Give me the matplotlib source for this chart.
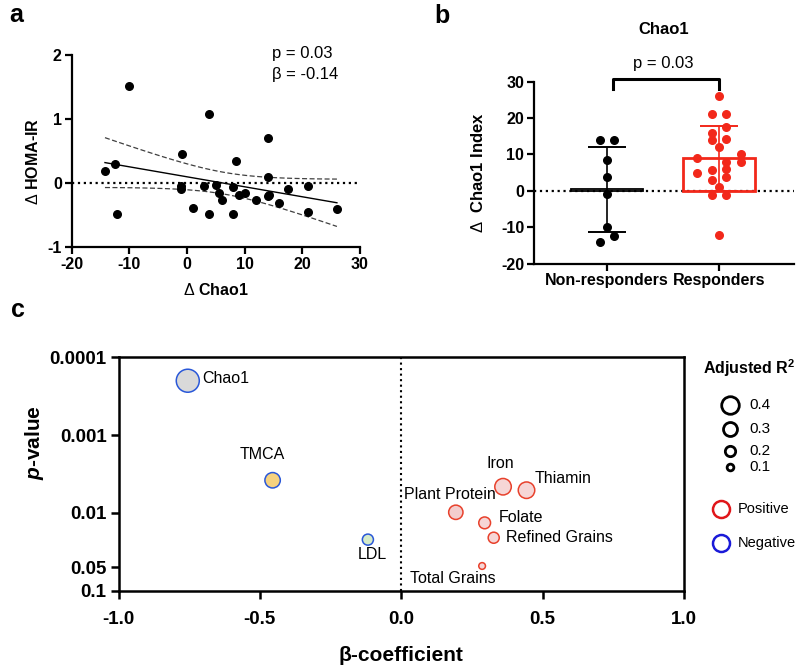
import numpy as np
import matplotlib
matplotlib.use("Agg")
import matplotlib.pyplot as plt
from matplotlib.ticker import NullLocator

plt.rcParams['font.family'] = ['Liberation Sans', 'DejaVu Sans']
plt.rcParams['axes.unicode_minus'] = False
plt.rcParams['mathtext.fontset'] = 'custom'
plt.rcParams['mathtext.rm'] = 'Liberation Sans'
plt.rcParams['mathtext.it'] = 'Liberation Sans:italic'
plt.rcParams['mathtext.bf'] = 'Liberation Sans:bold'
plt.rcParams['mathtext.bfit'] = 'Liberation Sans:bold:italic'

# ---- panel a : change in Chao1 vs change in HOMA-IR
chao_delta = [-14.2, -12.5, -12.1, -10.0, -0.8, -1.1, -1.1, 1.0, 3.0, 3.9, 3.9,
              5.0, 5.6, 6.0, 8.0, 8.0, 8.5, 9.0, 10.1, 12.0, 14.0, 14.0, 14.0,
              14.3, 16.0, 17.5, 21.0, 21.0, 26.0]
homa_delta = [0.19, 0.30, -0.48, 1.52, 0.46, -0.05, -0.10, -0.39, -0.04, 1.08, -0.48,
              -0.03, -0.16, -0.26, -0.06, -0.48, 0.34, -0.18, -0.16, -0.26, 0.71, 0.09, -0.20,
              -0.18, -0.32, -0.10, -0.04, -0.46, -0.41]
T_CRIT = 2.052  # t(0.975, df=27)

# ---- panel b : Chao1 change by group
groups = ["Non-responders", "Responders"]
nonresp = [14.0, 14.0, 8.5, 3.9, -0.8, -10.0, -12.5, -14.2]
resp = [26.0, 21.0, 21.0, 17.5, 16.0, 14.0, 14.3, 12.0, 9.0, 10.1, 8.0,
        8.0, 5.0, 5.6, 6.0, 3.0, 3.9, 1.0, -1.1, -1.1, -12.1]
# swarm slots (in dot widths) so the dots do not overlap
nonresp_slot = [-1, 1, 0, 0, 0, 0, 1, -1]
resp_slot = [0, -1, 1, 1, -1, -1, 1, 0, -3, 3, 3, 1, -3, -1, 1, -1, 1, 0, -1, 1, 0]

# ---- panel c : regression summary
variables = ["Chao1", "TMCA", "LDL", "Plant Protein", "Iron", "Thiamin",
             "Folate", "Refined Grains", "Total Grains"]
beta = [-0.755, -0.455, -0.118, 0.193, 0.36, 0.443, 0.295, 0.327, 0.286]
pvals = [0.0002, 0.0038, 0.022, 0.0098, 0.0046, 0.0051, 0.0134, 0.0208, 0.048]
adj_r2 = [0.55, 0.34, 0.22, 0.31, 0.37, 0.37, 0.24, 0.22, 0.10]
r2_legend = [0.4, 0.3, 0.2, 0.1]

fills = ['#d9d9d9', '#f6d27f', '#d6ebc9', '#f3cdcd', '#f6d6d6', '#f6d6d6',
         '#f6d6d6', '#f6d6d6', '#f6d6d6']
label_off = {  # offset in px, alignment
    "Chao1": (14, 2, 'left'), "TMCA": (-10, 26, 'center'), "LDL": (4, -15, 'center'),
    "Plant Protein": (-6, 18, 'center'), "Iron": (-3, 23, 'center'),
    "Thiamin": (8, 12, 'left'), "Folate": (14, 5, 'left'),
    "Refined Grains": (12, 0, 'left'), "Total Grains": (-29, -13, 'center'),
}
RED = '#f2281a'
POS = '#e8412c'
NEG = '#2a58d8'


def r2_to_px(r2):
    return 3.1 + 36.2 * r2


fig = plt.figure(figsize=(8, 6.71), dpi=100)
W, H = 800, 671


def px_axes(l, r, t, b):
    return fig.add_axes([l / W, 1 - b / H, (r - l) / W, (b - t) / H])


# ================= a
axa = px_axes(71.5, 360, 55, 247)
x = np.array(chao_delta)
y = np.array(homa_delta)
slope, icpt = np.polyfit(x, y, 1)
xs = np.linspace(x.min(), x.max(), 100)
n = len(x)
s = np.sqrt(np.sum((y - (slope * x + icpt)) ** 2) / (n - 2))
se = s * np.sqrt(1 / n + (xs - x.mean()) ** 2 / np.sum((x - x.mean()) ** 2))
fit = slope * xs + icpt
axa.axhline(0, color='k', ls=':', lw=1.6, zorder=1)
axa.plot(xs, fit, color='k', lw=1.0)
axa.plot(xs, fit + T_CRIT * se, color='0.25', lw=0.9, ls=(0, (4, 2)))
axa.plot(xs, fit - T_CRIT * se, color='0.25', lw=0.9, ls=(0, (4, 2)))
axa.scatter(x, y, s=30, color='k', zorder=3)
axa.set_xlim(-20, 30)
axa.set_ylim(-1, 2)
axa.set_xticks([-20, -10, 0, 10, 20, 30])
axa.set_yticks([-1, 0, 1, 2])
axa.text(0.695, 1.01, "p = 0.03", transform=axa.transAxes, ha='left', va='center', fontsize=12)
axa.text(0.695, 0.896, "β = -0.14", transform=axa.transAxes, ha='left', va='center', fontsize=12)
axa.set_xlabel(r"$\mathrm{\Delta}$ Chao1", fontsize=11.5, fontweight='bold', va='center')
axa.xaxis.set_label_coords(0.5, -0.224)
axa.set_ylabel(r"$\mathrm{\Delta}$ HOMA-IR", fontsize=11.5, fontweight='bold', va='center')
axa.yaxis.set_label_coords(-0.133, 0.448)

# ================= b
axb = px_axes(534, 794, 81.7, 263.5)
data_b = [np.array(nonresp), np.array(resp)]
slots = [nonresp_slot, resp_slot]
cols = ['k', RED]
bar_lw = [1.3, 2.0]
step = 0.0655
axb.axhline(0, color='k', ls=':', lw=1.6, zorder=1)
for i, (vals, sl, c) in enumerate(zip(data_b, slots, cols)):
    m = vals.mean()
    sd = vals.std(ddof=1)
    axb.bar(i, m, width=0.65, fill=False, edgecolor=c, lw=bar_lw[i], zorder=2)
    axb.errorbar(i, m, yerr=sd, color=c, lw=1.2, capsize=13.5, capthick=1.4, zorder=2)
    axb.scatter(i + np.array(sl) * step, vals, s=30, color=c, zorder=3)
axb.plot([0.056, 0.056, 1, 1], [28, 30.7, 30.7, 28], color='k', lw=2.2, clip_on=False)
axb.text(0.5, 35.0, "p = 0.03", ha='center', va='center', fontsize=12)
axb.set_xlim(-0.652, 1.67)
axb.set_ylim(-20, 30)
axb.set_yticks([-20, -10, 0, 10, 20, 30])
axb.set_xticks([0, 1])
axb.set_xticklabels(groups, fontsize=11.5, fontweight='bold')
axb.set_title("Chao1", fontsize=12, fontweight='bold', pad=34)
axb.set_ylabel(r"$\mathrm{\Delta}$  Chao1 Index", fontsize=12, fontweight='bold', va='center')
axb.yaxis.set_label_coords(-0.215, 0.5)

for ax in (axa, axb):
    for sp in ('top', 'right'):
        ax.spines[sp].set_visible(False)
    for sp in ('left', 'bottom'):
        ax.spines[sp].set_linewidth(1.6)
    ax.tick_params(width=1.6, length=5, pad=2)
    for lab in ax.get_xticklabels() + ax.get_yticklabels():
        lab.set_fontweight('bold')
        lab.set_fontsize(11.5)

# ================= c
axc = px_axes(118.5, 684, 357.3, 590.8)
axc.axvline(0, color='k', ls=':', lw=1.5, zorder=1)
edge = [NEG if b < 0 else POS for b in beta]
sizes = [(r2_to_px(r) * 0.72) ** 2 for r in adj_r2]
axc.scatter(beta, pvals, s=sizes, c=fills, edgecolors=edge, linewidths=1.1, zorder=3)
for name, b, p in zip(variables, beta, pvals):
    dx, dy, ha = label_off[name]
    axc.annotate(name, (b, p), xytext=(dx * 0.72, dy * 0.72), textcoords='offset points',
                 ha=ha, va='center', fontsize=11.5)
axc.set_yscale('log')
axc.set_ylim(0.1, 0.0001)
axc.set_xlim(-1, 1)
axc.set_yticks([0.0001, 0.001, 0.01, 0.05, 0.1])
axc.set_yticklabels(['0.0001', '0.001', '0.01', '0.05', '0.1'])
axc.yaxis.set_minor_locator(NullLocator())
axc.set_xticks([-1.0, -0.5, 0.0, 0.5, 1.0])
axc.set_xticklabels(['-1.0', '-0.5', '0.0', '0.5', '1.0'])
for sp in axc.spines.values():
    sp.set_linewidth(1.8)
axc.tick_params(width=1.8, length=5.5, pad=3, labelsize=13.5)
axc.tick_params(axis='x', pad=9)
for lab in axc.get_xticklabels() + axc.get_yticklabels():
    lab.set_fontweight('bold')
axc.set_xlabel("β-coefficient", fontsize=15, fontweight='bold', va='center')
axc.xaxis.set_label_coords(0.5, -0.275)
axc.set_ylabel(r"$\mathbfit{p}$-value", fontsize=15, fontweight='bold', va='center')
axc.yaxis.set_label_coords(-0.149, 0.633)

# ================= overlay: panel letters and panel c key
ov = fig.add_axes([0, 0, 1, 1])
ov.set_xlim(0, W)
ov.set_ylim(H, 0)
ov.axis('off')
for letter, lx, ly in (('a', 16, 15), ('b', 442, 16), ('c', 18, 310)):
    ov.text(lx, ly, letter, fontsize=18, fontweight='bold', ha='center', va='center')
ov.text(703, 368, r"Adjusted R$^{\mathbf{2}}$", fontsize=11.5, fontweight='bold', va='center')
for r2, ky in zip(r2_legend, [405, 429, 451, 467]):
    ov.scatter(730, ky, s=(r2_to_px(r2) * 0.72) ** 2, facecolor='white', edgecolor='k', linewidths=2)
    ov.text(749, ky, f"{r2:.1f}", fontsize=11, va='center')
for lbl, c, ky in (("Positive", '#e0161a', 509), ("Negative", '#1a1ad8', 543)):
    ov.scatter(721, ky, s=(17 * 0.72) ** 2, facecolor='white', edgecolor=c, linewidths=1.8)
    ov.text(738, ky, lbl, fontsize=10.5, va='center')

fig.savefig("out.png", dpi=100)
